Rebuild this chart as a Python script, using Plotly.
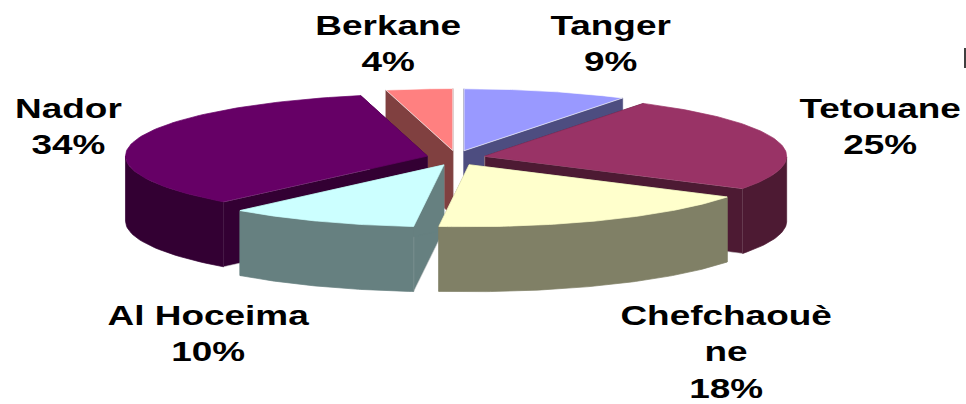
import numpy as np
import plotly.graph_objects as go

# Data
regions = ["Tanger", "Tetouane", "Chefchaouène", "Al Hoceima", "Nador", "Berkane"]
slice_sizes = [8.8, 24.9, 17.9, 10.2, 34.65, 3.55]   # as measured from the slice angles
printed_percent = [9, 25, 18, 10, 34, 4]              # as printed on the labels
label_lines = ["Tanger", "Tetouane", "Chefchaouè<br>ne", "Al Hoceima", "Nador", "Berkane"]

# Styles
top_colors = ["#9999FF", "#993366", "#FFFFCC", "#CCFFFF", "#660066", "#FF8080"]
side_colors = ["#4D4D80", "#4D1A33", "#808066", "#668080", "#330033", "#804040"]
label_x = [610, 880, 726, 208, 68, 388]
label_y = [43, 126, 352, 333, 126, 43]
paint_order = [0, 5, 4, 1, 3, 2]

# Projection of the exploded tilted pie
CX, CY = 456.0, 158.0
RX, RY = 302.0, 62.0
EX, EY = 29.5, 7.5
DEPTH = 65.0

frac = np.cumsum([0] + slice_sizes) / sum(slice_sizes) * 2 * np.pi


def point(theta):
    return RX * np.sin(theta), -RY * np.cos(theta)


fig = go.Figure()


def face(xs, ys, color, name, line=None):
    fig.add_trace(go.Scatter(
        x=list(xs), y=list(ys), mode="lines", fill="toself", fillcolor=color,
        line=dict(color=line or color, width=0.7), name=name,
        hoverinfo="skip", showlegend=False))


for i in paint_order:
    a0, a1 = frac[i], frac[i + 1]
    mid = (a0 + a1) / 2
    ax = CX + EX * np.sin(mid)
    ay = CY - EY * np.cos(mid)
    t = np.linspace(a0, a1, 80)
    px, py = point(t)
    px, py = ax + px, ay + py
    edge = "rgba(255,255,255,0.95)" if i in (0, 5) else None
    # cut faces
    for th in (a0, a1):
        ex, ey = point(th)
        lighter = "rgba(200,200,200,0.8)" if (th == a0 and i in (3, 4)) or (th == a1 and i == 1) else None
        face([ax, ax + ex, ax + ex, ax, ax], [ay, ay + ey, ay + ey + DEPTH, ay + DEPTH, ay],
             side_colors[i], regions[i] + " cut", lighter)
    # outer wall, front half only
    mask = np.cos(t) < 0
    if mask.any():
        wx, wy = px[mask], py[mask]
        face(np.r_[wx, wx[::-1], wx[0]], np.r_[wy, wy[::-1] + DEPTH, wy[0]],
             side_colors[i], regions[i] + " wall")
    # top
    face(np.r_[ax, px, ax], np.r_[ay, py, ay], top_colors[i], regions[i] + " top", edge)

annotations = [
    dict(x=x, y=y, text=f"{lab}<br>{v}%", showarrow=False, xanchor="center", yanchor="middle",
         align="center", font=dict(family="Liberation Sans", size=28, color="#000000", weight="bold"))
    for lab, v, x, y in zip(label_lines, printed_percent, label_x, label_y)
]

fig.update_layout(
    width=966, height=404, margin=dict(l=0, r=0, t=0, b=0),
    paper_bgcolor="white", plot_bgcolor="white", annotations=annotations,
    xaxis=dict(range=[0, 966], visible=False, fixedrange=True),
    yaxis=dict(range=[404, 0], visible=False, fixedrange=True),
    shapes=[dict(type="line", x0=965, x1=965, y0=48, y1=68,
                 line=dict(color="#000000", width=1.5))],
)

stretch_js = """
document.body.style.margin='0';document.body.style.overflow='hidden';
document.querySelectorAll('.annotation-text').forEach(function(t){
  var b=t.getBBox(), c=b.x+b.width/2;
  t.setAttribute('transform','translate('+c+',0) scale(1.32,1) translate('+(-c)+',0)');
});
"""
fig.write_html("out.html", config=dict(displayModeBar=False), post_script=stretch_js)
